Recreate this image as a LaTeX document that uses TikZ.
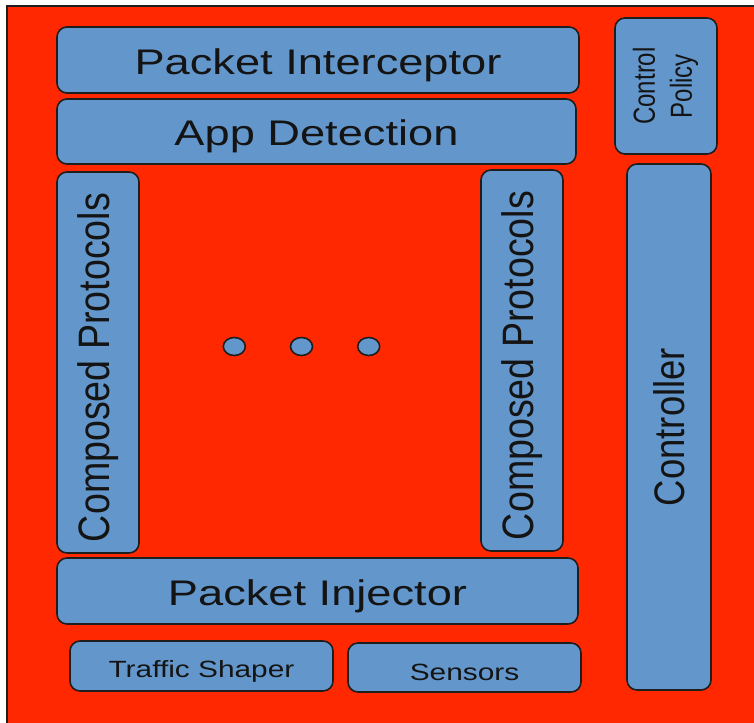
\documentclass[tikz,border=0pt]{standalone}
\usepackage{fontspec}
\setmainfont{Liberation Sans}
\usetikzlibrary{shapes.geometric}
\definecolor{bgred}{RGB}{255,40,0}
\definecolor{boxblue}{RGB}{99,151,204}
\definecolor{edgeline}{RGB}{30,30,30}
% text is set slightly wide and sits a little low in its box
\newcommand\widetxt[1]{\raisebox{-5pt}[\height][\depth]{\scalebox{1.27}[1]{#1}}}
\newcommand\uptxt[1]{\raisebox{-5pt}[\height][\depth]{\rotatebox{90}{\scalebox{1}[1.17]{#1}}}}
\newcommand\largefs{\fontsize{35.6}{40}\selectfont}
\newcommand\vertfs{\fontsize{36.5}{42}\selectfont}
\newcommand\stackfs{\fontsize{37.6}{42}\selectfont}
\newcommand\smallfs{\fontsize{23.5}{28}\selectfont}
\newcommand\tinyfs{\fontsize{24}{29}\selectfont}
\begin{document}
\begin{tikzpicture}[x=1pt,y=-1pt,
  blk/.style={draw=edgeline, fill=boxblue, line width=1.6pt, rounded corners=10pt,
              inner sep=0pt, text=black!92, align=center},
  dotnode/.style={ellipse, draw=edgeline, fill=boxblue, line width=1.6pt,
              minimum width=22pt, minimum height=18pt, inner sep=0pt}]
\useasboundingbox (0,0) rectangle (754,722);
\fill[white] (0,0) rectangle (754,722);
\draw[fill=bgred, draw=edgeline, line width=1.5pt] (7,6) rectangle (762,730);

% main stack
\node[blk, minimum width=522pt, minimum height=66pt, font=\largefs] (pint) at (318,60) {\widetxt{Packet Interceptor}};
\node[blk, minimum width=519pt, minimum height=65pt, font=\largefs] (appd) at (316.5,131.5) {\widetxt{App Detection}};
\node[blk, minimum width=82pt, minimum height=381pt, font=\stackfs] (cpl) at (98,362.5) {\uptxt{Composed Protocols}};
\node[blk, minimum width=82pt, minimum height=381pt, font=\stackfs] (cpr) at (522,360.5) {\uptxt{Composed Protocols}};
\node[blk, minimum width=521pt, minimum height=66pt, font=\largefs] (pinj) at (317.5,591) {\widetxt{Packet Injector}};
\node[blk, minimum width=263pt, minimum height=50pt, font=\smallfs] (tshp) at (201.5,666) {\widetxt{Traffic Shaper}};
\node[blk, minimum width=233pt, minimum height=49pt, font=\smallfs] (sens) at (464.5,667.5) {\widetxt{Sensors}};

% control column
\node[blk, minimum width=102pt, minimum height=136pt, font=\tinyfs] (cpol) at (666,86)
  {\rotatebox{90}{\scalebox{1}[1.27]{\begin{tabular}{@{}c@{}}Control\\Policy\end{tabular}}}};
\node[blk, minimum width=84pt, minimum height=526pt, font=\vertfs] (ctrl) at (669,427) {\rotatebox{90}{\scalebox{1}[1.17]{Controller}}};

% ellipsis between the protocol stacks
\node[dotnode] (d1) at (234.3,346.5) {};
\node[dotnode] (d2) at (301.5,346.5) {};
\node[dotnode] (d3) at (368.7,346.5) {};
\end{tikzpicture}
\end{document}
